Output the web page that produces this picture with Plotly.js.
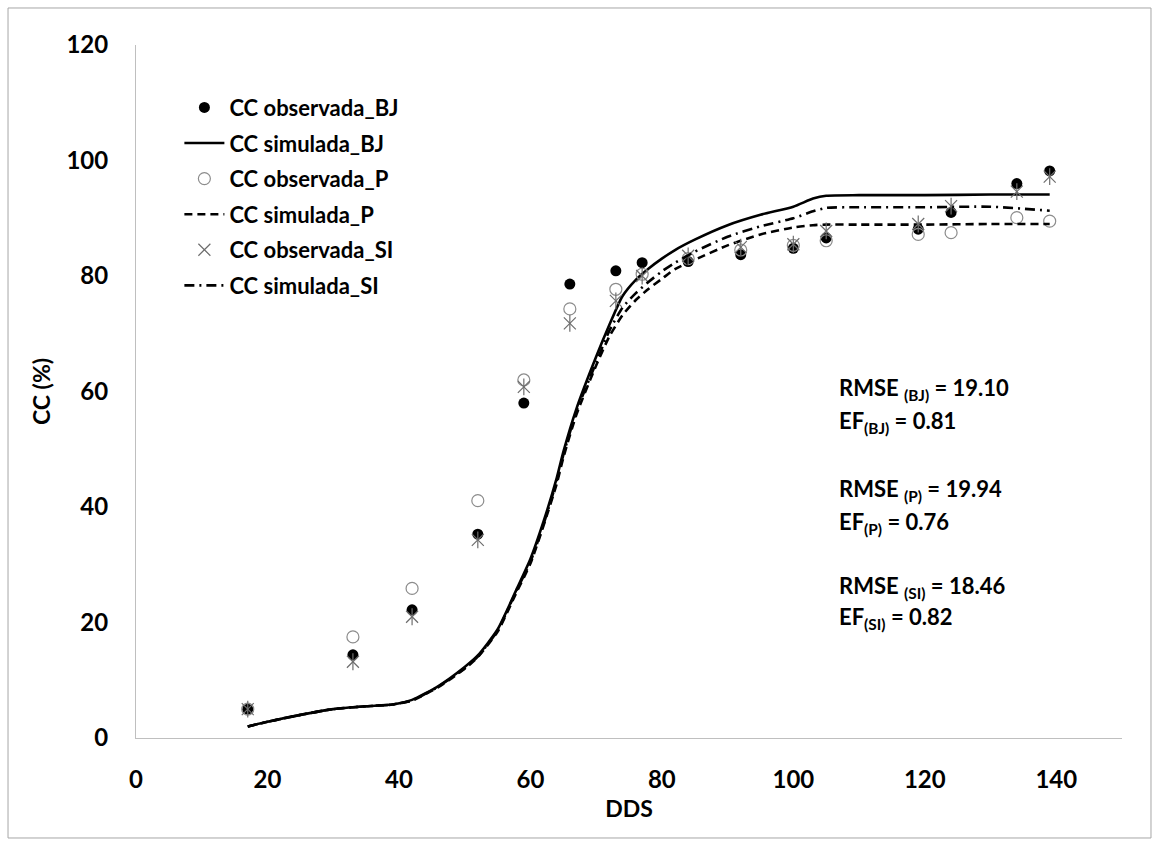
<!DOCTYPE html>
<html>
<head>
<meta charset="utf-8">
<script src="https://cdn.plot.ly/plotly-3.0.1.min.js"></script>
<style>html,body{margin:0;padding:0;background:#fff;}#chart{width:1160px;height:847px;}</style>
</head>
<body>
<div id="chart"></div>
<script>
// Observation days (DDS)
const obsX = [17, 33, 42, 52, 59, 66, 73, 77, 84, 92, 100, 105, 119, 124, 134, 139];
const obsBJ = [5.0, 14.4, 22.2, 35.3, 58.0, 78.6, 80.9, 82.3, 82.5, 83.7, 84.8, 86.6, 88.1, 91.0, 96.0, 98.2];
const obsP  = [5.0, 17.5, 25.9, 41.1, 62.0, 74.3, 77.7, 80.3, 83.0, 84.5, 85.3, 86.1, 87.2, 87.5, 90.1, 89.5];
const obsSI = [5.0, 13.2, 21.0, 34.3, 60.8, 71.8, 75.7, 80.0, 83.5, 85.0, 85.5, 87.8, 89.0, 92.1, 94.6, 97.2];

// Simulated canopy cover
const simX  = [17, 20, 25, 30, 35, 39, 42, 46, 50, 52, 55, 58, 60, 62, 64, 65, 67, 70, 72, 74, 76, 78, 80, 82, 85, 90, 95, 100, 103, 105, 110, 120, 130, 139];
const simBJ = [2.0, 2.8, 4.0, 5.0, 5.5, 5.8, 6.6, 9.0, 12.3, 14.3, 18.8, 26.0, 31.0, 37.5, 45.0, 49.5, 57.0, 66.0, 71.5, 76.5, 79.3, 81.3, 83.0, 84.5, 86.3, 88.8, 90.6, 92.0, 93.4, 93.9, 94.0, 94.0, 94.1, 94.1];
const simP  = [2.0, 2.8, 4.0, 5.0, 5.5, 5.8, 6.5, 8.8, 12.0, 14.0, 18.4, 25.5, 30.2, 36.8, 44.0, 48.5, 56.0, 64.5, 69.5, 73.2, 75.8, 77.8, 79.5, 81.2, 82.8, 85.3, 87.2, 88.4, 88.8, 88.9, 88.9, 88.9, 89.0, 89.0];
const simSI = [2.0, 2.8, 4.0, 5.0, 5.5, 5.8, 6.5, 8.9, 12.1, 14.1, 18.6, 25.8, 30.5, 37.0, 44.5, 49.0, 56.5, 65.0, 70.5, 74.5, 77.0, 79.0, 80.8, 82.3, 84.2, 86.8, 88.6, 90.0, 91.2, 91.8, 91.9, 91.9, 92.0, 91.3];

const seriesNames = ['CC observada_BJ', 'CC simulada_BJ', 'CC observada_P', 'CC simulada_P', 'CC observada_SI', 'CC simulada_SI'];
const statLabels = ['BJ', 'P', 'SI'];
const rmseVals = ['19.10', '19.94', '18.46'];
const efVals = ['0.81', '0.76', '0.82'];
const xTicks = [0, 20, 40, 60, 80, 100, 120, 140];
const yTicks = [0, 20, 40, 60, 80, 100, 120];

const FONT = 'Lato, "Open Sans", sans-serif';

const traces = [
  {x: obsX, y: obsBJ, name: seriesNames[0], mode: 'markers', type: 'scatter', legendgroup: 'g1',
   marker: {symbol: 'circle', size: 11, color: '#000000'}},
  {x: simX, y: simBJ, name: seriesNames[1], mode: 'lines', type: 'scatter', legendgroup: 'g2',
   line: {color: '#000000', width: 2.6, shape: 'spline', smoothing: 0.6}},
  {x: obsX, y: obsP, name: seriesNames[2], mode: 'markers', type: 'scatter', legendgroup: 'g3',
   marker: {symbol: 'circle-open', size: 12, color: '#8c8c8c', line: {width: 1.2, color: '#8c8c8c'}}},
  {x: simX, y: simP, name: seriesNames[3], mode: 'lines', type: 'scatter', legendgroup: 'g4',
   line: {color: '#000000', width: 2.6, dash: '8px,5px', shape: 'spline', smoothing: 0.6}},
  {x: obsX, y: obsSI, name: seriesNames[4], mode: 'markers', type: 'scatter', legendgroup: 'g5',
   marker: {symbol: 'x-thin-open', size: 12, color: '#6e6e6e', line: {width: 1.2, color: '#6e6e6e'}}},
  {x: obsX, y: obsSI, name: seriesNames[4], mode: 'markers', type: 'scatter', legendgroup: 'g5', showlegend: false,
   marker: {symbol: 'line-ns-open', size: 12, color: '#6e6e6e', line: {width: 1.2, color: '#6e6e6e'}}},
  {x: simX, y: simSI, name: seriesNames[5], mode: 'lines', type: 'scatter', legendgroup: 'g6',
   line: {color: '#000000', width: 2.6, dash: '10px,5px,2px,5px', shape: 'spline', smoothing: 0.6}}
];

const annFont = {family: FONT, size: 22, color: '#000000', weight: 'bold'};
const rmseY = [0.5036, 0.3579, 0.2179];
const efY = [0.456, 0.310, 0.173];
const annotations = [];
statLabels.forEach((lab, i) => {
  annotations.push({xref: 'paper', yref: 'paper', x: 0.711, y: rmseY[i], xanchor: 'left', yanchor: 'middle',
    showarrow: false, align: 'left', font: annFont,
    text: 'RMSE <sub>(' + lab + ')</sub> = ' + rmseVals[i]});
  annotations.push({xref: 'paper', yref: 'paper', x: 0.711, y: efY[i], xanchor: 'left', yanchor: 'middle',
    showarrow: false, align: 'left', font: annFont,
    text: 'EF<sub>(' + lab + ')</sub> = ' + efVals[i]});
});

const layout = {
  width: 1160, height: 847,
  margin: {l: 136, r: 38, t: 45, b: 109},
  paper_bgcolor: '#ffffff', plot_bgcolor: '#ffffff',
  showlegend: true,
  legend: {x: 0.044, y: 0.94, xanchor: 'left', yanchor: 'top', bgcolor: 'rgba(0,0,0,0)',
    font: {family: FONT, size: 22, color: '#000000', weight: 'bold'}, tracegroupgap: 4, itemwidth: 40,
    traceorder: 'grouped'},
  xaxis: {range: [0, 150], tickvals: xTicks, ticktext: xTicks.map(String), showgrid: false, zeroline: false,
    showline: true, linecolor: '#bfbfbf', linewidth: 1, ticks: '', ticklabelstandoff: 20,
    tickfont: {family: FONT, size: 24, color: '#000000', weight: 'bold'},
    title: {text: 'DDS', font: {family: FONT, size: 23, color: '#000000', weight: 'bold'}, standoff: 9}},
  yaxis: {range: [0, 120], tickvals: yTicks, ticktext: yTicks.map(String), showgrid: false, zeroline: false,
    showline: true, linecolor: '#bfbfbf', linewidth: 1, ticks: '', ticklabelstandoff: 22,
    tickfont: {family: FONT, size: 24, color: '#000000', weight: 'bold'},
    title: {text: 'CC (%)', font: {family: FONT, size: 23, color: '#000000', weight: 'bold'}, standoff: 9}},
  annotations: annotations,
  shapes: [{type: 'rect', xref: 'paper', yref: 'paper', x0: -0.1298, x1: 1.0294, y0: -0.1443, y1: 1.0534,
    line: {color: '#a6a6a6', width: 1}, fillcolor: 'rgba(0,0,0,0)', layer: 'below'}]
};

Plotly.newPlot('chart', traces, layout, {displayModeBar: false, staticPlot: true});
</script>
</body>
</html>
